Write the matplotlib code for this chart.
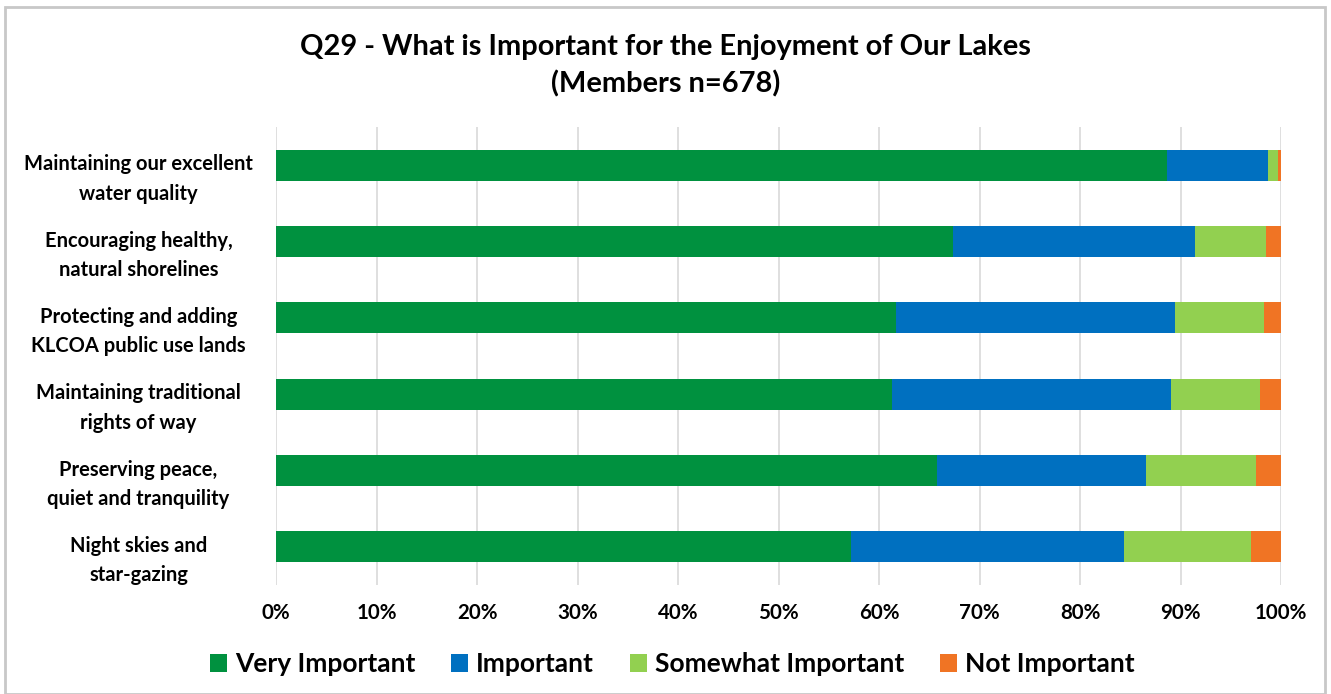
import matplotlib
matplotlib.use("Agg")
import matplotlib.pyplot as plt
import matplotlib.transforms as mtransforms
from matplotlib.patches import Rectangle
import numpy as np

categories = [
    "Maintaining our excellent\nwater quality",
    "Encouraging healthy,\nnatural shorelines",
    "Protecting and adding\nKLCOA public use lands",
    "Maintaining traditional\nrights of way",
    "Preserving peace,\nquiet and tranquility",
    "Night skies and\nstar-gazing",
]
series_names = ["Very Important", "Important", "Somewhat Important", "Not Important"]
very_important = [88.7, 67.4, 61.7, 61.3, 65.8, 57.2]
important = [10.0, 24.0, 27.8, 27.8, 20.8, 27.2]
somewhat_important = [1.0, 7.1, 8.8, 8.8, 10.9, 12.6]
not_important = [0.3, 1.5, 1.7, 2.1, 2.5, 3.0]
colors = ["#00913F", "#0070C0", "#92D050", "#F07424"]
xticks = [0, 10, 20, 30, 40, 50, 60, 70, 80, 90, 100]

plt.rcParams['font.family'] = ['Lato', 'DejaVu Sans']
plt.rcParams['font.weight'] = 'bold'

W, H = 1331, 694
fig = plt.figure(figsize=(W / 100, H / 100), dpi=100)
fig.patches.append(Rectangle((5 / W, 0), (1325 - 5) / W, (H - 7) / H, transform=fig.transFigure,
                             fill=False, edgecolor="#C8C8C8", linewidth=2))

ax = fig.add_axes([276 / W, 1 - 585 / H, (1281 - 276) / W, (585 - 127) / H])

y = np.arange(len(categories))
data = [very_important, important, somewhat_important, not_important]
left = np.zeros(len(categories))
for name, vals, c in zip(series_names, data, colors):
    ax.barh(y, vals, left=left, height=0.41, color=c, label=name, zorder=3)
    left += np.array(vals)

ax.set_ylim(len(categories) - 0.5, -0.5)
ax.set_xlim(0, 100)
ax.set_yticks(y)
ax.set_yticklabels(categories, fontsize=14.5, fontweight='bold', ha='center', linespacing=1.6)
ax.tick_params(axis='y', pad=99, length=0)
shift = mtransforms.ScaledTranslation(0, -7 / 100, fig.dpi_scale_trans)
for lbl in ax.get_yticklabels():
    lbl.set_transform(lbl.get_transform() + shift)
ax.set_xticks(xticks)
ax.set_xticklabels([f"{t}%" for t in xticks], fontsize=14.8, fontweight='bold')
ax.tick_params(axis='x', length=0, pad=13)
ax.grid(axis='x', color="#D9D9D9", linewidth=1.2, zorder=0)
for s in ax.spines.values():
    s.set_visible(False)

fig.text(0.5, 1 - 47 / H, "Q29 - What is Important for the Enjoyment of Our Lakes",
         ha='center', va='center', fontsize=20.9, fontweight='bold')
fig.text(0.5, 1 - 84 / H, "(Members n=678)", ha='center', va='center', fontsize=20.9, fontweight='bold')

handles, labels = ax.get_legend_handles_labels()
fig.legend(handles, labels, loc='center', bbox_to_anchor=(0.505, 1 - 664 / H), ncol=4,
           frameon=False, handlelength=0.65, handleheight=0.65, handletextpad=0.3,
           columnspacing=1.35, prop={'weight': 'bold', 'size': 19})

fig.savefig("out.png", dpi=100)
